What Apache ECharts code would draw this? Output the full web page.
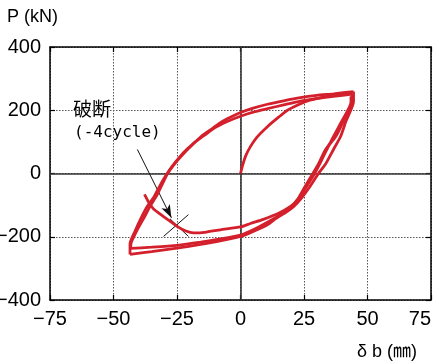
<!DOCTYPE html>
<html>
<head>
<meta charset="utf-8">
<style>
  html, body { margin: 0; padding: 0; background: #fff; }
  #chart { width: 439px; height: 363px; }
</style>
<script src="https://cdn.jsdelivr.net/npm/echarts@6/dist/echarts.min.js"></script>
</head>
<body>
<div id="chart"></div>
<script>
// Axis settings
const xMin = -75, xMax = 75, xStep = 25;
const yMin = -400, yMax = 400, yStep = 200;

// Initial loading from the origin up to the first positive peak
const initialLoad = [
  [0, 0], [0.8, 25], [2, 55], [3.9, 85], [6.5, 115], [10.6, 148], [15, 178],
  [18.5, 200], [23, 218], [27, 231], [32, 241], [38, 248], [43.5, 254]
];

// Outer loop: unloading from the positive peak, then reloading from the negative peak
const cycle1Down = [
  [44.5, 259], [44.5, 228], [41.5, 165], [39.4, 117], [36.6, 76], [33.5, 30],
  [30.7, 0], [27, -45], [23.6, -82], [21, -104], [18, -122], [14, -142],
  [10.6, -162], [5, -183], [0, -199], [-8, -213], [-15.7, -224], [-25, -236],
  [-35, -247], [-43.5, -256]
];
const cycle1Up = [
  [-43.5, -256], [-43.5, -222], [-41.5, -182], [-39.4, -145], [-36.8, -105],
  [-34.2, -76], [-31.5, -35], [-29.5, -8], [-27, 22], [-24, 52], [-20.9, 78],
  [-17.5, 102], [-14.6, 123], [-11, 143], [-7.9, 161], [-4, 178], [0, 193],
  [5, 207], [10.6, 219], [17, 230], [23.6, 240], [30, 247], [36.6, 252],
  [44.5, 259]
];

// Inner loop
const cycle2Down = [
  [44, 251], [44, 230], [40.5, 165], [37.5, 117], [33.5, 76], [30.8, 32],
  [28.5, 0], [25.5, -40], [22.6, -80], [20, -104], [16.5, -126], [12, -148],
  [6, -174], [0, -195], [-8, -207], [-15.7, -217], [-25, -227], [-35, -233],
  [-43.3, -237]
];
const cycle2Up = [
  [-43.3, -237], [-43, -218], [-40.5, -176], [-38, -140], [-35.5, -102],
  [-33, -70], [-30.3, -26], [-28.7, 0], [-26, 30], [-22, 66], [-18.5, 95],
  [-14, 122], [-10, 145], [-5, 165], [0, 181], [5, 194], [10.6, 205],
  [17, 217], [23.6, 229], [30, 237], [36.6, 244], [44, 251]
];

// Last branch toward the negative side, ending in fracture
const fractureDown = [
  [43.5, 244], [43.5, 226], [39.5, 160], [35.5, 100], [31.8, 40], [29.2, 0],
  [25.5, -48], [22.5, -86], [19.7, -104], [15, -126], [9, -145], [3.9, -158],
  [0, -169], [-7.9, -178], [-14, -186], [-18.5, -188], [-21.5, -182],
  [-24.8, -168], [-27.5, -152], [-30.3, -136], [-34.2, -112], [-36.2, -90],
  [-37.8, -66]
];

// Annotation: leader arrow and the fracture mark
const arrowFrom = [-40.6, 76];
const arrowTo = [-27.2, -140];
const crossA = [[-30.3, -199], [-20.5, -130]];
const crossB = [[-27.8, -143], [-20.5, -199]];

const red = '#d4202c';
const tickFont = 'Liberation Sans Narrow, Arial Narrow, Liberation Sans, sans-serif';
const minusFmt = v => String(v).replace('-', '\u2212');

const chart = echarts.init(document.getElementById('chart'), null, { renderer: 'canvas' });

function loop(name, data) {
  return {
    name, type: 'line', data, xAxisIndex: 0, yAxisIndex: 0,
    showSymbol: false, smooth: 0.2, z: 5,
    lineStyle: { color: red, width: 2.8 }, silent: true, animation: false
  };
}

const frameAxis = {
  axisLine: { show: true, onZero: false, lineStyle: { color: '#000', width: 1.5 } },
  axisTick: { show: true, inside: true, length: 5, lineStyle: { color: '#000', width: 1.2 } },
  splitLine: { show: false }
};

chart.setOption({
  animation: false,
  grid: { left: 50, right: 8, top: 47, bottom: 63, containLabel: false, outerBoundsMode: 'none' },
  xAxis: [
    Object.assign({
      type: 'value', min: xMin, max: xMax, interval: xStep, position: 'bottom',
      axisLabel: {
        color: '#000', fontSize: 20, fontFamily: tickFont, margin: 9,
        formatter: minusFmt, hideOverlap: false, alignMaxLabel: 'right'
      },
    }, frameAxis, {
      splitLine: { show: true, lineStyle: { color: '#555', type: [1.5, 1.5], width: 1 } }
    }),
    Object.assign({
      type: 'value', min: xMin, max: xMax, interval: xStep, position: 'top',
      axisLabel: { show: false }
    }, frameAxis)
  ],
  yAxis: [
    Object.assign({
      type: 'value', min: yMin, max: yMax, interval: yStep, position: 'left',
      axisLabel: { color: '#000', fontSize: 20, fontFamily: tickFont, margin: 9, formatter: minusFmt, hideOverlap: false },
    }, frameAxis, {
      splitLine: { show: true, lineStyle: { color: '#555', type: [1.5, 1.5], width: 1 } }
    }),
    Object.assign({
      type: 'value', min: yMin, max: yMax, interval: yStep, position: 'right',
      axisLabel: { show: false }
    }, frameAxis)
  ],
  series: [
    {
      // zero reference lines
      type: 'line', data: [], z: 2, silent: true,
      markLine: {
        silent: true, symbol: 'none', animation: false,
        label: { show: false },
        lineStyle: { color: '#333', width: 1.6, type: 'solid' },
        data: [{ xAxis: 0 }, { yAxis: 0 }]
      }
    },
    loop('initial', initialLoad),
    loop('cycle1-down', cycle1Down),
    loop('cycle1-up', cycle1Up),
    loop('cycle2-down', cycle2Down),
    loop('cycle2-up', cycle2Up),
    loop('fracture', fractureDown),
    {
      // leader arrow and fracture cross
      type: 'line', data: [], z: 6, silent: true,
      markLine: {
        silent: true, animation: false,
        label: { show: false },
        lineStyle: { color: '#111', width: 1, type: 'solid' },
        data: [
          [{ coord: arrowFrom, symbol: 'none' }, { coord: arrowTo, symbol: 'arrow', symbolSize: [7, 13] }],
          [{ coord: crossA[0], symbol: 'none' }, { coord: crossA[1], symbol: 'none' }],
          [{ coord: crossB[0], symbol: 'none' }, { coord: crossB[1], symbol: 'none' }]
        ]
      }
    }
  ],
  graphic: [
    { type: 'text', left: 7, top: 8, style: { text: 'P (kN)', font: '18px Liberation Sans, Arial, sans-serif', fill: '#000' } },
    { type: 'text', right: 22, top: 343, style: { text: 'δ b (㎜)', font: '18px Liberation Sans, Noto Sans CJK JP, sans-serif', fill: '#000' } },
    { type: 'text', left: 73, top: 99, style: { text: '破断', font: '19px Noto Sans CJK JP, sans-serif', fill: '#000' } },
    { type: 'text', left: 74, top: 125, style: { text: '(-4cycle)', font: '16px DejaVu Sans Mono, monospace', fill: '#000' } }
  ]
});
</script>
</body>
</html>
